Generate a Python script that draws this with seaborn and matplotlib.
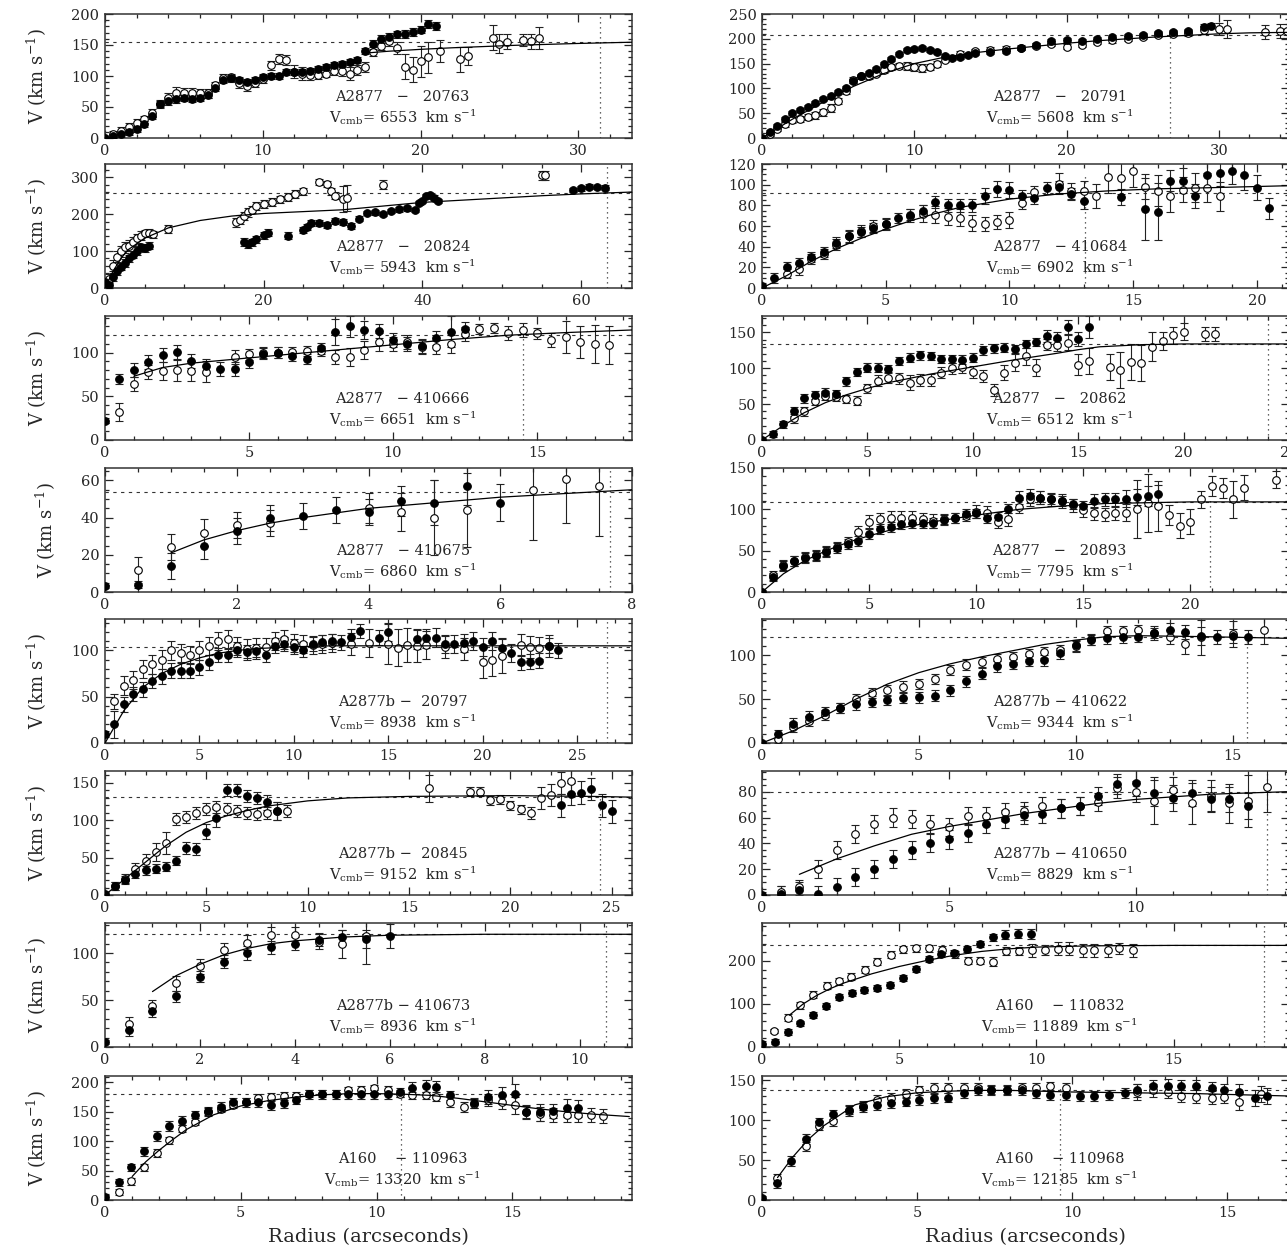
import matplotlib
matplotlib.use("Agg")
import matplotlib.pyplot as plt
from matplotlib.ticker import AutoMinorLocator, MultipleLocator
import pandas as pd
import seaborn as sns

# ---- data: (radius, velocity, error) ---------------------------------------
# A2877 - 20763
G20763_FILLED = [(0, 0, 2), (0.5, 3, 3), (1, 6, 4), (1.5, 9, 4), (2, 14, 5), (2.5, 22, 5), (3, 35, 5),
                 (3.5, 55, 5), (4, 60, 6), (4.5, 63, 6), (5, 64, 5), (5.5, 63, 5), (6, 65, 5), (6.5, 70, 5),
                 (7, 81, 5), (7.5, 93, 5), (8, 96, 5), (8.5, 93, 5), (9, 90, 5), (9.5, 93, 5), (10, 98, 5),
                 (10.5, 100, 5), (11, 100, 5), (11.5, 107, 5), (12, 107, 5), (12.5, 107, 5), (13, 108, 5),
                 (13.5, 111, 5), (14, 115, 5), (14.5, 118, 5), (15, 120, 5), (15.5, 122, 5), (16, 126, 5),
                 (16.5, 140, 5), (17, 152, 6), (17.5, 160, 6), (18, 163, 6), (18.5, 167, 6), (19, 168, 6),
                 (19.5, 171, 6), (20, 175, 6), (20.5, 184, 6), (21, 181, 6)]
G20763_OPEN = [(0.5, 6, 5), (1, 12, 5), (1.5, 18, 6), (2, 24, 6), (2.5, 30, 6), (3, 40, 6), (3.5, 55, 6),
               (4, 65, 7), (4.5, 72, 10), (5, 72, 8), (5.5, 72, 8), (6, 72, 7), (6.5, 72, 7), (7, 85, 6),
               (7.5, 97, 6), (8, 98, 6), (8.5, 88, 8), (9, 84, 8), (9.5, 88, 6), (10, 95, 6), (10.5, 117, 8),
               (11, 128, 8), (11.5, 126, 8), (12, 107, 10), (12.5, 104, 10), (13, 102, 8), (13.5, 101, 6),
               (14, 104, 6), (14.5, 108, 6), (15, 108, 8), (15.5, 104, 10), (16, 110, 8), (16.5, 115, 8),
               (17, 138, 6), (17.5, 148, 6), (18, 156, 8), (18.5, 145, 10), (19, 115, 20), (19.5, 110, 20),
               (20, 124, 25), (20.5, 130, 25), (21.2, 140, 18), (22.5, 127, 20), (23, 132, 15),
               (24.6, 162, 20), (25, 152, 15), (25.5, 155, 12), (26.5, 158, 10), (27, 156, 12), (27.5, 161, 18)]
G20763_CURVE_R = [16.5, 18, 20, 22, 24, 26, 28, 30, 33.4]
G20763_CURVE_V = [137, 140, 143, 145.5, 147.5, 149.5, 151, 152.5, 154.5]

# A2877 - 20791
G20791_FILLED = [(0, 0, 3), (0.5, 12, 4), (1, 25, 4), (1.5, 38, 4), (2, 50, 4), (2.5, 57, 4), (3, 63, 4),
                 (3.5, 70, 4), (4, 78, 4), (4.5, 85, 4), (5, 92, 4), (5.5, 101, 4), (6, 114, 4), (6.5, 124, 4),
                 (7, 132, 4), (7.5, 140, 4), (8, 150, 4), (8.5, 160, 4), (9, 170, 4), (9.5, 177, 4),
                 (10, 180, 4), (10.5, 181, 4), (11, 178, 4), (11.5, 173, 4), (12, 166, 4), (12.5, 161, 4),
                 (13, 163, 4), (13.5, 167, 4), (14, 171, 4), (15, 174, 4), (16, 176, 4), (17, 181, 4),
                 (18, 187, 4), (19, 196, 4), (20, 197, 4), (21, 195, 4), (22, 199, 4), (23, 203, 4),
                 (24, 206, 4), (25, 208, 4), (26, 211, 4), (27, 213, 4), (28, 216, 4), (29, 224, 5),
                 (29.5, 226, 5)]
G20791_OPEN = [(0.5, 8, 4), (1, 18, 4), (1.5, 28, 5), (2, 36, 6), (2.5, 39, 6), (3, 42, 6), (3.5, 46, 7),
               (4, 52, 7), (4.5, 60, 8), (5, 74, 6), (5.5, 95, 6), (6, 117, 6), (6.5, 124, 6), (7, 125, 6),
               (7.5, 130, 6), (8, 137, 6), (8.5, 144, 6), (9, 146, 6), (9.5, 145, 8), (10, 143, 8),
               (10.5, 141, 8), (11, 144, 6), (11.5, 150, 6), (12, 158, 5), (13, 170, 5), (14, 175, 5),
               (15, 178, 5), (16, 180, 5), (17, 182, 5), (18, 186, 5), (19, 190, 5), (20, 184, 5),
               (21, 188, 5), (22, 194, 5), (23, 197, 5), (24, 200, 5), (25, 204, 5), (26, 208, 5),
               (27, 210, 5), (28, 212, 6), (29, 218, 8), (30, 220, 12), (30.5, 220, 18), (33, 214, 14),
               (34, 216, 14), (34.5, 215, 14)]
G20791_CURVE_R = [0, 2, 4, 6, 8, 10, 12, 14, 16, 18, 20, 22, 24, 26, 28, 30, 32, 34.6]
G20791_CURVE_V = [0, 38, 72, 104, 130, 150, 163, 172, 179, 185, 191, 196, 200, 204, 207, 210, 212, 213]

# A2877 - 20824
G20824_FILLED = [(0, 15, 8), (0.5, 8, 8), (1, 30, 10), (1.5, 45, 10), (2, 58, 10), (2.5, 68, 10), (3, 80, 10),
                 (3.5, 90, 10), (4, 100, 10), (4.5, 110, 10), (5, 108, 10), (5.5, 115, 10), (17.5, 125, 10),
                 (18, 118, 10), (18.5, 124, 10), (19, 132, 10), (20, 143, 10), (20.5, 150, 10), (23, 142, 10),
                 (25, 156, 8), (25.5, 165, 8), (26, 175, 8), (27, 175, 8), (28, 170, 8), (29, 182, 8),
                 (30, 178, 8), (31, 168, 8), (32, 188, 6), (33, 203, 6), (34, 205, 6), (35, 200, 6),
                 (36, 208, 6), (37, 213, 6), (38, 216, 6), (39, 212, 6), (39.5, 230, 6), (40, 235, 6),
                 (40.5, 250, 6), (41, 252, 6), (41.5, 245, 6), (42, 235, 6), (59, 265, 6), (60, 270, 6),
                 (61, 275, 6), (62, 273, 6), (63, 272, 6)]
G20824_OPEN = [(0.5, 25, 12), (1, 60, 15), (1.5, 85, 15), (2, 100, 15), (2.5, 110, 15), (3, 115, 15),
               (3.5, 125, 12), (4, 135, 12), (4.5, 142, 12), (5, 148, 10), (5.5, 150, 10), (6, 145, 10),
               (8, 160, 10), (16.5, 178, 12), (17, 185, 12), (17.5, 195, 12), (18, 205, 12), (18.5, 212, 10),
               (19, 222, 10), (20, 228, 10), (21, 233, 10), (22, 240, 10), (23, 247, 10), (24, 255, 10),
               (25, 262, 10), (27, 288, 8), (28, 283, 8), (28.5, 262, 10), (29, 250, 10), (30, 242, 35),
               (30.5, 245, 35), (35, 280, 12), (55, 305, 12), (55.5, 305, 12)]
G20824_CURVE_R = [0, 1, 2, 3, 5, 8, 12, 16, 20, 25, 30, 35, 40, 45, 50, 55, 60, 66.4]
G20824_CURVE_V = [0, 45, 80, 105, 135, 163, 183, 195, 202, 207, 212, 222, 232, 238, 244, 250, 255, 260]

# A2877 - 410684
G410684_FILLED = [(0, 2, 2), (0.5, 10, 5), (1, 20, 5), (1.5, 24, 5), (2, 30, 5), (2.5, 35, 5), (3, 44, 5),
                  (3.5, 50, 5), (4, 54, 5), (4.5, 58, 5), (5, 62, 5), (5.5, 68, 5), (6, 71, 5), (6.5, 75, 5),
                  (7, 83, 6), (7.5, 80, 6), (8, 80, 6), (8.5, 80, 6), (9, 89, 8), (9.5, 96, 8), (10, 95, 8),
                  (10.5, 89, 6), (11, 87, 6), (11.5, 97, 6), (12, 98, 6), (12.5, 91, 6), (13, 84, 8),
                  (14.5, 88, 8), (15.5, 76, 30), (16, 74, 28), (16.5, 104, 10), (17, 104, 12), (17.5, 89, 12),
                  (18, 109, 12), (18.5, 111, 12), (19, 113, 12), (19.5, 109, 14), (20, 97, 12), (20.5, 77, 10)]
G410684_OPEN = [(1, 14, 4), (1.5, 18, 5), (2, 28, 5), (2.5, 33, 5), (3, 42, 5), (3.5, 50, 6), (4, 55, 6),
                (4.5, 60, 6), (5, 62, 6), (6, 70, 6), (6.5, 72, 8), (7, 71, 8), (7.5, 69, 8), (8, 68, 8),
                (8.5, 63, 8), (9, 62, 7), (9.5, 64, 7), (10, 66, 8), (10.5, 82, 6), (11, 93, 6), (12, 101, 10),
                (12.5, 94, 8), (13, 94, 10), (13.5, 89, 12), (14, 107, 15), (14.5, 106, 15), (15, 113, 15),
                (15.5, 98, 12), (16, 94, 15), (16.5, 89, 15), (17, 95, 12), (17.5, 97, 14), (18, 97, 14),
                (18.5, 89, 14)]
G410684_CURVE_R = [0, 1, 2, 3, 4, 5, 6, 7, 8, 10, 12, 14, 16, 18, 21.3]
G410684_CURVE_V = [0, 12, 26, 38, 48, 57, 65, 72, 78, 86, 91, 94, 96, 97, 99]

# A2877 - 410666
G410666_FILLED = [(0, 22, 3), (0.5, 70, 6), (1, 80, 8), (1.5, 89, 8), (2, 97, 8), (2.5, 101, 8), (3, 90, 8),
                  (3.5, 85, 8), (4, 81, 8), (4.5, 81, 8), (5, 89, 6), (5.5, 99, 6), (6, 100, 6), (6.5, 96, 6),
                  (7, 93, 6), (7.5, 105, 6), (8, 124, 15), (8.5, 130, 12), (9, 126, 10), (9.5, 125, 8),
                  (10, 115, 8), (10.5, 110, 8), (11, 108, 8), (11.5, 117, 8), (12, 124, 18), (12.5, 127, 8)]
G410666_OPEN = [(0.5, 32, 10), (1, 64, 8), (1.5, 78, 8), (2, 79, 10), (2.5, 80, 12), (3, 79, 12), (3.5, 78, 12),
                (4.5, 95, 8), (5, 98, 6), (5.5, 100, 6), (6, 100, 6), (6.5, 101, 6), (7, 102, 6), (7.5, 102, 6),
                (8, 95, 8), (8.5, 95, 10), (9, 103, 10), (9.5, 112, 10), (10, 110, 8), (10.5, 112, 8),
                (11, 106, 8), (11.5, 107, 8), (12, 110, 10), (12.5, 121, 8), (13, 127, 6), (13.5, 128, 6),
                (14, 123, 8), (14.5, 126, 8), (15, 122, 6), (15.5, 115, 8), (16, 118, 18), (16.5, 112, 18),
                (17, 110, 22), (17.5, 109, 22)]
G410666_CURVE_R = [1, 2, 3, 4, 5, 6, 8, 10, 12, 14, 16, 18.3]
G410666_CURVE_V = [73, 83, 88, 91, 94, 97, 103, 109, 115, 120, 123, 126]

# A2877 - 20862
G20862_FILLED = [(0, 0, 3), (0.5, 8, 4), (1, 22, 5), (1.5, 40, 6), (2, 58, 6), (2.5, 63, 6), (3, 66, 6),
                 (3.5, 64, 6), (4, 82, 6), (4.5, 95, 6), (5, 101, 6), (5.5, 101, 6), (6, 99, 6), (6.5, 110, 6),
                 (7, 115, 6), (7.5, 118, 6), (8, 117, 6), (8.5, 113, 6), (9, 113, 6), (9.5, 112, 6),
                 (10, 115, 6), (10.5, 125, 6), (11, 128, 6), (11.5, 129, 6), (12, 127, 6), (12.5, 134, 6),
                 (13, 137, 6), (13.5, 145, 8), (14, 142, 8), (14.5, 158, 10), (15, 141, 10), (15.5, 158, 15)]
G20862_OPEN = [(1.5, 30, 6), (2, 40, 6), (2.5, 55, 6), (3, 62, 6), (3.5, 60, 6), (4, 57, 6), (4.5, 55, 6),
               (5, 72, 6), (5.5, 83, 8), (6, 87, 8), (6.5, 86, 8), (7, 80, 10), (7.5, 84, 8), (8, 84, 8),
               (8.5, 94, 8), (9, 100, 8), (9.5, 102, 8), (10, 95, 8), (10.5, 89, 8), (11, 70, 8),
               (11.5, 94, 10), (12, 108, 12), (12.5, 117, 12), (13, 101, 12), (13.5, 133, 8), (14, 132, 8),
               (14.5, 136, 10), (15, 105, 15), (15.5, 110, 18), (16.5, 102, 18), (17, 98, 25), (17.5, 109, 25),
               (18, 107, 25), (18.5, 130, 20), (19, 138, 12), (19.5, 146, 12), (20, 151, 12), (21, 148, 10),
               (21.5, 148, 10)]
G20862_CURVE_R = [0, 1, 2, 3, 4, 5, 6, 8, 10, 12, 14, 15, 16, 18, 20, 25]
G20862_CURVE_V = [0, 20, 38, 52, 63, 72, 80, 92, 102, 112, 121, 126, 130, 133, 134, 134]

# A2877 - 410675
G410675_FILLED = [(0, 3, 1), (0.5, 4, 2), (1, 14, 7), (1.5, 25, 7), (2, 33, 7), (2.5, 40, 7), (3, 41, 7),
                  (3.5, 44, 7), (4, 43, 7), (4.5, 49, 8), (5, 48, 12), (5.5, 57, 10), (6, 48, 10)]
G410675_OPEN = [(0.5, 12, 7), (1, 24, 7), (1.5, 32, 7), (2, 36, 7), (2.5, 37, 7), (4, 45, 8), (4.5, 43, 10),
                (5, 40, 20), (5.5, 44, 20), (6.5, 55, 27), (7, 61, 24), (7.5, 57, 27)]
G410675_CURVE_R = [1, 1.5, 2, 2.5, 3, 4, 5, 6, 7, 8]
G410675_CURVE_V = [21, 28, 33, 37, 40, 45, 48, 51, 53, 55]

# A2877 - 20893
G20893_FILLED = [(0, 0, 3), (0.5, 18, 5), (1, 32, 6), (1.5, 37, 6), (2, 41, 6), (2.5, 44, 6), (3, 48, 6),
                 (3.5, 53, 6), (4, 58, 6), (4.5, 62, 6), (5, 70, 6), (5.5, 76, 6), (6, 79, 6), (6.5, 82, 6),
                 (7, 84, 6), (7.5, 84, 6), (8, 84, 6), (8.5, 87, 6), (9, 89, 6), (9.5, 94, 6), (10, 95, 6),
                 (10.5, 90, 6), (11, 91, 6), (11.5, 101, 6), (12, 114, 8), (12.5, 116, 8), (13, 114, 8),
                 (13.5, 112, 6), (14, 110, 6), (14.5, 106, 6), (15, 104, 6), (15.5, 110, 8), (16, 112, 8),
                 (16.5, 112, 8), (17, 113, 10), (17.5, 115, 10), (18, 116, 12), (18.5, 118, 12)]
G20893_OPEN = [(0.5, 20, 5), (1, 33, 6), (1.5, 38, 6), (2, 42, 6), (2.5, 45, 6), (3, 50, 6), (3.5, 55, 6),
               (4, 60, 6), (4.5, 72, 8), (5, 85, 8), (5.5, 88, 8), (6, 90, 8), (6.5, 90, 8), (7, 90, 8),
               (7.5, 88, 8), (8, 86, 8), (8.5, 88, 6), (9, 90, 6), (9.5, 92, 6), (10, 97, 8), (10.5, 96, 8),
               (11, 85, 8), (11.5, 88, 8), (12, 103, 8), (12.5, 112, 8), (13, 114, 8), (13.5, 112, 8),
               (14, 110, 8), (14.5, 105, 8), (15, 99, 8), (15.5, 95, 8), (16, 94, 8), (16.5, 95, 8),
               (17, 96, 10), (17.5, 100, 35), (18, 108, 35), (18.5, 104, 30), (19, 93, 12), (19.5, 80, 15),
               (20, 85, 15), (20.5, 112, 10), (21, 128, 12), (21.5, 126, 12), (22, 112, 22), (22.5, 126, 15),
               (24, 136, 10)]
G20893_CURVE_R = [0, 1, 2, 3, 4, 5, 6, 8, 10, 12, 14, 16, 18, 20, 24.6]
G20893_CURVE_V = [0, 22, 38, 50, 60, 68, 75, 85, 93, 100, 104, 107, 108, 109, 109]

# A2877b - 20797
G20797_FILLED = [(0, 10, 3), (0.5, 20, 15), (1, 42, 8), (1.5, 53, 8), (2, 58, 8), (2.5, 67, 8), (3, 72, 8),
                 (3.5, 78, 8), (4, 78, 8), (4.5, 78, 8), (5, 82, 8), (5.5, 87, 8), (6, 95, 8), (6.5, 95, 8),
                 (7, 101, 8), (7.5, 98, 8), (8, 99, 8), (8.5, 95, 8), (9, 105, 8), (9.5, 107, 8), (10, 104, 8),
                 (10.5, 101, 8), (11, 107, 8), (11.5, 109, 8), (12, 110, 8), (12.5, 109, 8), (13, 115, 8),
                 (13.5, 121, 8), (14.5, 114, 8), (15, 120, 10), (16.5, 112, 10), (17, 113, 10), (17.5, 114, 10),
                 (18, 107, 10), (18.5, 107, 10), (19, 108, 10), (19.5, 110, 10), (20, 104, 10), (20.5, 110, 10),
                 (21, 103, 10), (21.5, 97, 10), (22, 87, 8), (22.5, 88, 8), (23, 89, 8), (23.5, 105, 8),
                 (24, 100, 8)]
G20797_OPEN = [(0.5, 45, 8), (1, 62, 10), (1.5, 68, 10), (2, 80, 10), (2.5, 85, 10), (3, 90, 10), (3.5, 100, 10),
               (4, 97, 10), (4.5, 95, 10), (5, 100, 10), (5.5, 105, 10), (6, 110, 10), (6.5, 112, 10),
               (7, 105, 10), (7.5, 102, 10), (8, 103, 10), (8.5, 104, 10), (9, 110, 10), (9.5, 112, 10),
               (10, 108, 10), (10.5, 107, 10), (11, 106, 10), (11.5, 107, 10), (12, 108, 10), (13, 107, 12),
               (14, 108, 15), (15, 107, 22), (15.5, 103, 20), (16, 106, 18), (16.5, 105, 18), (17, 106, 15),
               (18, 104, 12), (19, 102, 12), (20, 88, 18), (20.5, 90, 18), (21, 94, 18), (22, 106, 12),
               (22.5, 104, 12), (23, 103, 12), (23.5, 105, 12)]
G20797_CURVE_R = [0, 1, 2, 3, 4, 5, 6, 7, 8, 10, 12, 15, 20, 27.9]
G20797_CURVE_V = [0, 35, 60, 75, 85, 92, 97, 100, 102, 104, 105, 105, 105, 105]

# A2877b - 410622
G410622_FILLED = [(0, 0, 2), (0.5, 10, 5), (1, 22, 6), (1.5, 30, 6), (2, 35, 6), (2.5, 40, 6), (3, 44, 6),
                  (3.5, 47, 6), (4, 49, 6), (4.5, 51, 6), (5, 52, 6), (5.5, 54, 6), (6, 60, 6), (6.5, 70, 6),
                  (7, 79, 6), (7.5, 87, 6), (8, 90, 6), (8.5, 93, 6), (9, 94, 6), (9.5, 102, 6), (10, 111, 6),
                  (10.5, 117, 6), (11, 119, 6), (11.5, 120, 6), (12, 121, 6), (12.5, 125, 6), (13, 128, 8),
                  (13.5, 126, 8), (14, 122, 10), (14.5, 121, 8), (15, 122, 8), (15.5, 121, 8)]
G410622_OPEN = [(0.5, 5, 5), (1, 18, 6), (1.5, 25, 6), (2, 32, 6), (2.5, 40, 6), (3, 50, 6), (3.5, 57, 6),
                (4, 60, 6), (4.5, 64, 6), (5, 67, 6), (5.5, 73, 6), (6, 83, 6), (6.5, 89, 6), (7, 92, 6),
                (7.5, 95, 6), (8, 98, 6), (8.5, 101, 6), (9, 103, 6), (9.5, 106, 6), (10, 110, 6),
                (10.5, 118, 6), (11, 127, 6), (11.5, 127, 6), (12, 128, 6), (12.5, 125, 8), (13, 121, 8),
                (13.5, 113, 12), (14, 120, 20), (15, 124, 15), (16, 128, 15)]
G410622_CURVE_R = [0, 1, 2, 3, 4, 5, 6, 7, 8, 9, 10, 11, 12, 14, 16.8]
G410622_CURVE_V = [0, 14, 31, 50, 67, 80, 90, 98, 105, 112, 117, 121, 122, 121, 119]

# A2877b - 20845
G20845_FILLED = [(0, 2, 2), (0.5, 12, 5), (1, 20, 5), (1.5, 28, 5), (2, 33, 6), (2.5, 35, 6), (3, 38, 6),
                 (3.5, 46, 6), (4, 63, 8), (4.5, 61, 8), (5, 85, 10), (5.5, 103, 12), (6, 140, 8), (6.5, 141, 8),
                 (7, 133, 8), (7.5, 130, 8), (8, 124, 10), (8.5, 112, 12), (22.5, 120, 15), (23, 135, 15),
                 (23.5, 137, 15), (24, 142, 15), (24.5, 120, 15), (25, 112, 15)]
G20845_OPEN = [(0.5, 12, 5), (1, 22, 6), (1.5, 35, 8), (2, 45, 10), (2.5, 58, 12), (3, 70, 15), (3.5, 102, 8),
               (4, 105, 8), (4.5, 110, 8), (5, 115, 8), (5.5, 118, 8), (6, 115, 8), (6.5, 113, 8), (7, 110, 8),
               (7.5, 108, 8), (8, 110, 8), (8.5, 112, 12), (9, 112, 8), (16, 143, 18), (18, 138, 6),
               (18.5, 138, 6), (19, 127, 6), (19.5, 128, 6), (20, 120, 6), (20.5, 115, 6), (21, 110, 8),
               (21.5, 130, 15), (22, 134, 15), (22.5, 150, 15), (23, 152, 15)]
G20845_CURVE_R = [0, 1, 2, 3, 4, 5, 6, 7, 8, 10, 12, 15, 20, 24, 26]
G20845_CURVE_V = [0, 22, 44, 66, 84, 97, 106, 113, 119, 126, 130, 132, 133, 132, 131]

# A2877b - 410650
G410650_FILLED = [(0, 0, 2), (0.5, 1, 6), (1, 4, 6), (1.5, 1, 6), (2, 6, 7), (2.5, 14, 7), (3, 20, 7),
                  (3.5, 28, 7), (4, 35, 7), (4.5, 40, 7), (5, 43, 7), (5.5, 48, 7), (6, 55, 7), (6.5, 59, 7),
                  (7, 62, 7), (7.5, 63, 7), (8, 67, 7), (8.5, 69, 7), (9, 77, 7), (9.5, 86, 8), (10, 87, 10),
                  (10.5, 79, 10), (11, 75, 10), (11.5, 79, 10), (12, 74, 10), (12.5, 74, 10), (13, 69, 10)]
G410650_OPEN = [(0.5, 2, 5), (1, 6, 6), (1.5, 20, 7), (2, 35, 7), (2.5, 47, 7), (3, 55, 7), (3.5, 60, 7),
                (4, 59, 7), (4.5, 55, 7), (5, 53, 7), (5.5, 61, 7), (6, 61, 7), (6.5, 64, 7), (7, 65, 7),
                (7.5, 69, 7), (8, 67, 7), (8.5, 69, 7), (9, 72, 7), (9.5, 83, 8), (10, 80, 8), (10.5, 73, 18),
                (11, 81, 10), (11.5, 71, 16), (12, 77, 12), (12.5, 71, 15), (13, 73, 20), (13.5, 84, 20)]
G410650_CURVE_R = [1, 1.5, 2, 3, 4, 5, 6, 7, 8, 9, 10, 11, 12, 13, 14.1]
G410650_CURVE_V = [16, 22, 28, 38, 47, 53, 58, 63, 67, 71, 74, 76, 78, 79, 80]

# A2877b - 410673
G410673_FILLED = [(0, 5, 2), (0.5, 18, 6), (1, 38, 6), (1.5, 54, 6), (2, 75, 6), (2.5, 91, 7), (3, 100, 7),
                  (3.5, 106, 7), (4, 110, 7), (4.5, 114, 7), (5, 117, 8), (5.5, 115, 10), (6, 118, 13)]
G410673_OPEN = [(0.5, 25, 7), (1, 44, 6), (1.5, 68, 8), (2, 86, 8), (2.5, 103, 8), (3, 111, 8), (3.5, 119, 9),
                (4, 119, 9), (4.5, 112, 8), (5, 110, 15), (5.5, 118, 30)]
G410673_CURVE_R = [1, 1.5, 2, 2.5, 3, 3.5, 4, 5, 6, 8, 11.1]
G410673_CURVE_V = [59, 76, 88, 98, 105, 110, 113, 117, 119, 120, 120]

# A160 - 110832
G110832_FILLED = [(0, 8, 5), (0.48, 12, 6), (0.94, 35, 6), (1.4, 55, 6), (1.86, 75, 7), (2.33, 95, 7),
                  (2.8, 117, 7), (3.27, 125, 7), (3.73, 132, 7), (4.2, 137, 7), (4.67, 143, 7), (5.13, 160, 7),
                  (5.6, 182, 7), (6.07, 205, 7), (6.53, 215, 7), (7.0, 218, 7), (7.47, 228, 7), (7.93, 240, 7),
                  (8.4, 255, 8), (8.87, 261, 10), (9.33, 263, 10), (9.8, 263, 12)]
G110832_OPEN = [(0.45, 37, 5), (0.95, 68, 8), (1.4, 97, 8), (1.86, 121, 8), (2.36, 142, 8), (2.8, 153, 8),
                (3.26, 163, 8), (3.75, 180, 8), (4.2, 198, 8), (4.7, 214, 8), (5.15, 227, 8), (5.6, 229, 8),
                (6.1, 229, 8), (6.57, 226, 8), (7.04, 215, 8), (7.5, 200, 8), (7.95, 200, 8), (8.4, 198, 10),
                (8.9, 223, 10), (9.37, 223, 10), (9.83, 225, 15), (10.3, 225, 12), (10.8, 228, 15),
                (11.2, 228, 15), (11.7, 225, 15), (12.1, 225, 15), (12.6, 225, 15), (13.0, 229, 12),
                (13.5, 225, 15)]
G110832_CURVE_R = [1, 1.5, 2, 2.5, 3, 4, 5, 6, 7, 8, 9, 10, 12, 15, 19.2]
G110832_CURVE_V = [74, 100, 120, 136, 149, 170, 187, 201, 213, 222, 228, 232, 235, 236, 236]

# A160 - 110963
G110963_FILLED = [(0, 5, 3), (0.5, 30, 6), (0.94, 56, 6), (1.43, 83, 8), (1.9, 109, 8), (2.36, 126, 8),
                  (2.84, 135, 8), (3.33, 144, 8), (3.78, 151, 8), (4.27, 159, 8), (4.72, 166, 8), (5.2, 166, 8),
                  (5.65, 166, 8), (6.1, 161, 8), (6.6, 165, 8), (7.04, 171, 8), (7.5, 180, 8), (8.0, 180, 8),
                  (8.5, 180, 8), (8.94, 180, 8), (9.43, 180, 8), (9.9, 180, 8), (10.4, 180, 8), (10.85, 183, 8),
                  (11.3, 191, 10), (11.8, 194, 10), (12.2, 193, 10), (12.7, 178, 8), (13.6, 165, 8),
                  (14.1, 175, 12), (14.6, 178, 15), (15.1, 180, 18), (15.5, 150, 12), (16.0, 149, 15),
                  (16.5, 152, 12), (17.0, 157, 15), (17.4, 156, 15)]
G110963_OPEN = [(0.5, 13, 5), (0.94, 32, 6), (1.43, 56, 6), (1.9, 80, 6), (2.36, 102, 6), (2.84, 121, 6),
                (3.33, 133, 6), (3.78, 150, 6), (4.27, 155, 6), (4.72, 162, 6), (5.2, 167, 6), (5.65, 174, 6),
                (6.1, 176, 6), (6.6, 177, 6), (7.04, 177, 6), (7.5, 181, 6), (8.0, 181, 6), (8.5, 181, 6),
                (8.94, 187, 6), (9.43, 188, 6), (9.9, 190, 6), (10.4, 188, 6), (10.85, 181, 6), (11.3, 178, 6),
                (11.8, 178, 6), (12.2, 175, 6), (12.7, 167, 8), (13.2, 158, 8), (13.6, 164, 8), (14.1, 170, 10),
                (14.6, 167, 12), (15.1, 161, 15), (15.5, 150, 10), (16.0, 147, 12), (16.5, 145, 12),
                (17.0, 145, 12), (17.4, 144, 12), (17.9, 144, 12), (18.35, 143, 12)]
G110963_CURVE_R = [1, 1.5, 2, 2.5, 3, 4, 5, 6, 7, 8, 9, 10, 11, 12, 13, 14, 15, 16, 17, 18, 19.3]
G110963_CURVE_V = [40, 65, 85, 103, 120, 145, 160, 169, 175, 179, 181, 181, 180, 178, 173, 167, 161, 155, 150,
                   146, 142]

# A160 - 110968
G110968_FILLED = [(0, 3, 2), (0.48, 21, 6), (0.94, 49, 6), (1.42, 76, 6), (1.85, 97, 6), (2.3, 107, 6),
                  (2.8, 113, 6), (3.27, 116, 6), (3.7, 119, 6), (4.17, 121, 6), (4.65, 123, 6), (5.08, 125, 6),
                  (5.55, 127, 6), (6.0, 128, 6), (6.5, 134, 6), (6.96, 137, 6), (7.4, 138, 6), (7.9, 137, 6),
                  (8.4, 137, 6), (8.84, 134, 6), (9.3, 131, 6), (9.8, 131, 6), (10.25, 130, 6), (10.7, 130, 6),
                  (11.2, 131, 6), (11.7, 134, 6), (12.1, 137, 8), (12.6, 142, 8), (13.1, 143, 8), (13.5, 142, 8),
                  (14.0, 142, 8), (14.5, 140, 8), (14.9, 137, 8), (15.4, 135, 10), (15.9, 128, 10), (16.3, 130, 10)]
G110968_OPEN = [(0.48, 27, 6), (1.42, 67, 6), (1.85, 93, 6), (2.3, 99, 6), (2.8, 111, 6), (3.27, 118, 6),
                (3.7, 125, 6), (4.17, 128, 6), (4.65, 133, 6), (5.08, 137, 6), (5.55, 140, 6), (6.0, 140, 6),
                (6.5, 140, 6), (6.96, 140, 6), (7.4, 137, 6), (7.9, 138, 6), (8.4, 140, 6), (8.84, 140, 6),
                (9.3, 142, 6), (9.8, 140, 6), (12.1, 135, 10), (12.6, 137, 8), (13.1, 135, 8), (13.5, 130, 8),
                (14.0, 129, 8), (14.5, 128, 8), (14.9, 129, 8), (15.4, 123, 10), (16.1, 133, 10)]
G110968_CURVE_R = [0.5, 1, 1.5, 2, 2.5, 3, 4, 5, 6, 7, 8, 9, 10, 12, 14, 17]
G110968_CURVE_V = [28, 54, 76, 93, 106, 119, 129, 134, 136, 137, 137, 136, 135, 134, 133, 130]

# ---- panel settings ----------------------------------------------------------
LEFT = [
    dict(name="A2877   \u2212   20763", vcmb="6553", data=(G20763_FILLED, G20763_OPEN, G20763_CURVE_R, G20763_CURVE_V),
         xlim=33.4, ylim=200, xstep=10, ystep=50, hline=155, vline=31.4, vtop=None),
    dict(name="A2877   \u2212   20824", vcmb="5943", data=(G20824_FILLED, G20824_OPEN, G20824_CURVE_R, G20824_CURVE_V),
         xlim=66.4, ylim=336, xstep=20, ystep=100, hline=257, vline=63.3, vtop=None),
    dict(name="A2877   \u2212 410666", vcmb="6651", data=(G410666_FILLED, G410666_OPEN, G410666_CURVE_R, G410666_CURVE_V),
         xlim=18.3, ylim=142, xstep=5, ystep=50, hline=120, vline=14.5, vtop=124),
    dict(name="A2877   \u2212 410675", vcmb="6860", data=(G410675_FILLED, G410675_OPEN, G410675_CURVE_R, G410675_CURVE_V),
         xlim=8.0, ylim=66.7, xstep=2, ystep=20, hline=53.6, vline=7.67, vtop=None),
    dict(name="A2877b \u2212  20797", vcmb="8938", data=(G20797_FILLED, G20797_OPEN, G20797_CURVE_R, G20797_CURVE_V),
         xlim=27.9, ylim=134, xstep=5, ystep=50, hline=104, vline=26.6, vtop=None),
    dict(name="A2877b \u2212  20845", vcmb="9152", data=(G20845_FILLED, G20845_OPEN, G20845_CURVE_R, G20845_CURVE_V),
         xlim=26.0, ylim=166, xstep=5, ystep=50, hline=131, vline=24.4, vtop=131),
    dict(name="A2877b \u2212 410673", vcmb="8936", data=(G410673_FILLED, G410673_OPEN, G410673_CURVE_R, G410673_CURVE_V),
         xlim=11.1, ylim=132, xstep=2, ystep=50, hline=120, vline=10.56, vtop=None),
    dict(name="A160    \u2212 110963", vcmb="13320", data=(G110963_FILLED, G110963_OPEN, G110963_CURVE_R, G110963_CURVE_V),
         xlim=19.4, ylim=211, xstep=5, ystep=50, hline=181, vline=10.9, vtop=183),
]
RIGHT = [
    dict(name="A2877   \u2212   20791", vcmb="5608", data=(G20791_FILLED, G20791_OPEN, G20791_CURVE_R, G20791_CURVE_V),
         xlim=34.6, ylim=250, xstep=10, ystep=50, hline=208, vline=26.8, vtop=215),
    dict(name="A2877   \u2212 410684", vcmb="6902", data=(G410684_FILLED, G410684_OPEN, G410684_CURVE_R, G410684_CURVE_V),
         xlim=21.3, ylim=120, xstep=5, ystep=20, hline=92, vline=13.06, vtop=108),
    dict(name="A2877   \u2212   20862", vcmb="6512", data=(G20862_FILLED, G20862_OPEN, G20862_CURVE_R, G20862_CURVE_V),
         xlim=25.0, ylim=173, xstep=5, ystep=50, hline=134, vline=24.0, vtop=None),
    dict(name="A2877   \u2212   20893", vcmb="7795", data=(G20893_FILLED, G20893_OPEN, G20893_CURVE_R, G20893_CURVE_V),
         xlim=24.6, ylim=150, xstep=5, ystep=50, hline=109, vline=20.9, vtop=112),
    dict(name="A2877b \u2212 410622", vcmb="9344", data=(G410622_FILLED, G410622_OPEN, G410622_CURVE_R, G410622_CURVE_V),
         xlim=16.8, ylim=141, xstep=5, ystep=50, hline=121, vline=15.45, vtop=120),
    dict(name="A2877b \u2212 410650", vcmb="8829", data=(G410650_FILLED, G410650_OPEN, G410650_CURVE_R, G410650_CURVE_V),
         xlim=14.1, ylim=96, xstep=5, ystep=20, hline=80, vline=13.5, vtop=None),
    dict(name="A160    \u2212 110832", vcmb="11889", data=(G110832_FILLED, G110832_OPEN, G110832_CURVE_R, G110832_CURVE_V),
         xlim=19.2, ylim=288, xstep=5, ystep=100, hline=236, vline=18.3, vtop=None),
    dict(name="A160    \u2212 110968", vcmb="12185", data=(G110968_FILLED, G110968_OPEN, G110968_CURVE_R, G110968_CURVE_V),
         xlim=17.0, ylim=155, xstep=5, ystep=50, hline=137, vline=9.6, vtop=140),
]

sns.set_style("ticks")
plt.rcParams["font.family"] = ["DejaVu Serif"]
plt.rcParams["mathtext.fontset"] = "dejavuserif"

W, H = 1287, 1245
fig = plt.figure(figsize=(W / 100, H / 100), dpi=100)
TOPS = [14, 164, 316, 468, 619, 771, 923, 1076]
AX_W, AX_H = 527, 124


def draw_panel(ax, p):
    filled, opened, cr, cv = p["data"]
    for pts, face in ((opened, "white"), (filled, "black")):
        df = pd.DataFrame(pts, columns=["r", "v", "e"])
        ax.errorbar(df["r"], df["v"], yerr=df["e"], fmt="none", ecolor="#222222",
                    elinewidth=0.8, capsize=3.2, capthick=0.8, zorder=2)
        sns.scatterplot(data=df, x="r", y="v", ax=ax, s=30, color=face, edgecolor="black",
                        linewidth=0.8, zorder=3, legend=False)
    curve = pd.DataFrame({"r": cr, "v": cv})
    sns.lineplot(data=curve, x="r", y="v", ax=ax, color="black", lw=0.9, sort=False,
                 estimator=None, zorder=4)
    ax.axhline(p["hline"], color="#333333", lw=0.8, ls=(0, (3, 4)), zorder=1)
    vtop = p["vtop"] if p["vtop"] is not None else p["ylim"]
    ax.plot([p["vline"], p["vline"]], [0, vtop], color="#333333", lw=0.9, ls=(0, (1, 3)), zorder=1)

    ax.set_xlim(0, p["xlim"])
    ax.set_ylim(0, p["ylim"])
    ax.xaxis.set_major_locator(MultipleLocator(p["xstep"]))
    ax.yaxis.set_major_locator(MultipleLocator(p["ystep"]))
    ax.xaxis.set_minor_locator(AutoMinorLocator())
    ax.yaxis.set_minor_locator(AutoMinorLocator())
    ax.tick_params(which="both", direction="in", top=True, right=True, labelsize=10.5, width=0.9)
    ax.tick_params(which="major", length=6, pad=4)
    ax.tick_params(which="minor", length=3)
    for sp in ax.spines.values():
        sp.set_linewidth(1.1)
        sp.set_color("#333333")
    ax.set_xlabel("")
    ax.set_ylabel("")
    ax.text(0.565, 0.33, p["name"], transform=ax.transAxes, ha="center", va="center", fontsize=10.5)
    ax.text(0.565, 0.165, "V$_{\\rm cmb}$= %s  km s$^{-1}$" % p["vcmb"], transform=ax.transAxes,
            ha="center", va="center", fontsize=10.5)


for col, (x0, panels) in enumerate(((105, LEFT), (762, RIGHT))):
    for i, p in enumerate(panels):
        top = TOPS[i]
        ax = fig.add_axes([x0 / W, 1 - (top + AX_H) / H, AX_W / W, AX_H / H])
        draw_panel(ax, p)
        if col == 0:
            ax.set_ylabel("V (km s$^{-1}$)", fontsize=13, labelpad=16)
        if i == len(panels) - 1:
            ax.set_xlabel("Radius (arcseconds)", fontsize=14, labelpad=6)

fig.savefig("out.png", dpi=100)
